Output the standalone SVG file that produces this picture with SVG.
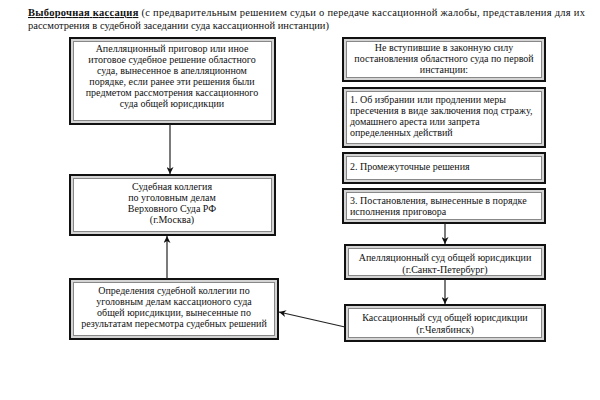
<svg xmlns="http://www.w3.org/2000/svg" width="600" height="400" viewBox="0 0 600 400">
<style>
.o{fill:#d4d4d4;stroke:#111;stroke-width:2}
.i{fill:#fff;stroke:#888;stroke-width:1}
text{font-family:"Liberation Serif","Times New Roman",serif;font-size:10px;fill:#111}
.c{text-anchor:middle}
.t{font-size:10.5px}
.e{stroke:#222;stroke-width:1.2;fill:none;marker-end:url(#ar)}
</style>
<defs>
<marker id="ar" viewBox="0 0 10 10" refX="10" refY="5" markerWidth="7" markerHeight="7" orient="auto" markerUnits="userSpaceOnUse">
<path d="M0,0 L10,5 L0,10 L3,5 Z" fill="#111"/>
</marker>
</defs>
<rect width="600" height="400" fill="#fff"/>
<g id="title">
<text class="t" x="28" y="16" textLength="557" lengthAdjust="spacing"><tspan font-weight="bold" text-decoration="underline">Выборочная кассация</tspan> (с предварительным решением судьи о передаче кассационной жалобы, представления для их</text>
<text class="t" x="28" y="29">рассмотрения в судебной заседании суда кассационной инстанции)</text>
</g>
<g id="nodeA">
<rect class="o" x="70" y="38" width="205" height="86"/>
<rect class="i" x="73.5" y="41.5" width="198" height="79"/>
<text class="c" x="172" y="52">Апелляционный приговор или иное</text>
<text class="c" x="172" y="63">итоговое судебное решение областного</text>
<text class="c" x="172" y="74">суда, вынесенное в апелляционном</text>
<text class="c" x="172" y="85">порядке, если ранее эти решения были</text>
<text class="c" x="172" y="96">предметом рассмотрения кассационного</text>
<text class="c" x="172" y="107">суда общей юрисдикции</text>
</g>
<g id="nodeB">
<rect class="o" x="70" y="175" width="205" height="60"/>
<rect class="i" x="73.5" y="178.5" width="198" height="53"/>
<text class="c" x="172" y="190">Судебная коллегия</text>
<text class="c" x="172" y="201">по уголовным делам</text>
<text class="c" x="172" y="212">Верховного Суда РФ</text>
<text class="c" x="172" y="223">(г.Москва)</text>
</g>
<g id="nodeF">
<rect class="o" x="70" y="279" width="208" height="60"/>
<rect class="i" x="73.5" y="282.5" width="201" height="53"/>
<text class="c" x="174" y="294">Определения судебной коллегии по</text>
<text class="c" x="174" y="305">уголовным делам кассационого суда</text>
<text class="c" x="174" y="316">общей юрисдикции, вынесенные по</text>
<text class="c" x="174" y="327">результатам пересмотра судебных решений</text>
</g>
<g id="nodeC">
<rect class="o" x="343" y="38" width="202" height="43"/>
<rect class="i" x="346.5" y="41.5" width="195" height="36"/>
<text class="c" x="444" y="51">Не вступившие в законную силу</text>
<text class="c" x="444" y="62">постановления областного суда по первой</text>
<text class="c" x="444" y="73">инстанции:</text>
</g>
<g id="nodeD">
<rect class="o" x="343" y="88" width="202" height="59"/>
<rect class="i" x="346.5" y="91.5" width="195" height="52"/>
<text x="350" y="103">1. Об избрании или продлении меры</text>
<text x="350" y="114">пресечения в виде заключения под стражу,</text>
<text x="350" y="125">домашнего ареста или запрета</text>
<text x="350" y="136">определенных действий</text>
</g>
<g id="nodeE">
<rect class="o" x="343" y="153" width="202" height="30"/>
<rect class="i" x="346.5" y="156.5" width="195" height="23"/>
<text x="350" y="170">2. Промежуточные решения</text>
</g>
<g id="nodeG">
<rect class="o" x="343" y="189" width="202" height="34"/>
<rect class="i" x="346.5" y="192.5" width="195" height="27"/>
<text x="350" y="204">3. Постановления, вынесенные в порядке</text>
<text x="350" y="215">исполнения приговора</text>
</g>
<g id="nodeH">
<rect class="o" x="345" y="245" width="200" height="34"/>
<rect class="i" x="348.5" y="248.5" width="193" height="27"/>
<text class="c" x="445" y="261">Апелляционный суд общей юрисдикции</text>
<text class="c" x="445" y="273">(г.Санкт-Петербург)</text>
</g>
<g id="nodeI">
<rect class="o" x="345" y="305" width="200" height="36"/>
<rect class="i" x="348.5" y="308.5" width="193" height="29"/>
<text class="c" x="445" y="321">Кассационный суд общей юрисдикции</text>
<text class="c" x="445" y="333">(г.Челябинск)</text>
</g>
<g id="connectors">
<line class="e" x1="170" y1="124" x2="170" y2="174"/>
<line class="e" x1="167" y1="279" x2="167" y2="236"/>
<line class="e" x1="445" y1="223" x2="445" y2="244"/>
<line class="e" x1="445" y1="279" x2="445" y2="304"/>
<line class="e" x1="345" y1="327" x2="279" y2="312"/>
</g>
</svg>
